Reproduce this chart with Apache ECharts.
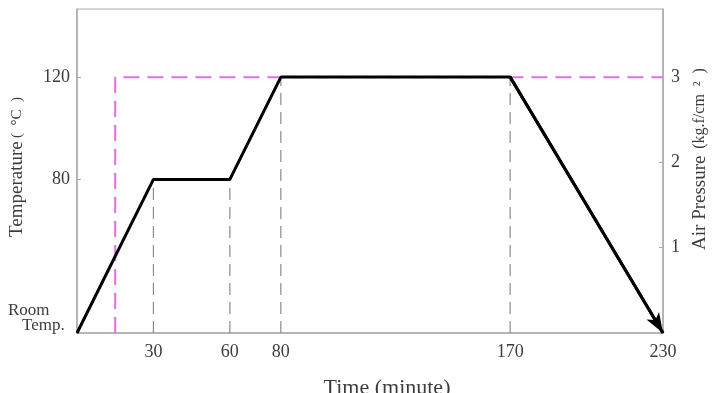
<!DOCTYPE html>
<html>
<head>
<meta charset="utf-8">
<script src="https://cdn.jsdelivr.net/npm/echarts@6/dist/echarts.min.js"></script>
<style>html,body{margin:0;padding:0;background:#fff}#c{width:718px;height:393px}</style>
</head>
<body>
<div id="c"></div>
<script>
// Temperature profile (time in minutes, temperature in °C)
var timePts = [0, 30, 60, 80, 170, 230];
var tempPts = [20, 80, 80, 120, 120, 20];
// Air pressure profile (time, kg.f/cm²)
var presTime = [15, 15, 230];
var presVals = [0, 3, 3];
// Guide lines at these times
var guideTimes = [30, 60, 80, 170];
var guideTemps = [80, 80, 120, 120];
// Tick labels
var xTicks = [30, 60, 80, 170, 230];
var yLeftTicks = [80, 120];
var yRightTicks = [1, 2, 3];
var roomTemp = 20;

var font = 'Liberation Serif';
var txtColor = '#3c3c3c';

var tempData = timePts.map(function (t, i) { return [t, tempPts[i]]; });
var presData = presTime.map(function (t, i) { return [t, presVals[i]]; });
var last = tempData.length - 1;

var series = [];
guideTimes.forEach(function (t, i) {
  series.push({
    type: 'line', xAxisIndex: 0, yAxisIndex: 0, symbol: 'none', silent: true,
    data: [[t, roomTemp], [t, guideTemps[i]]],
    lineStyle: { color: '#8a8a8a', width: 1.2, type: [12, 7] }, z: 1
  });
});
series.push({
  type: 'line', xAxisIndex: 0, yAxisIndex: 1, symbol: 'none',
  data: presData,
  lineStyle: { color: '#e36de3', width: 2, type: [16, 8] }, z: 2
});
series.push({
  type: 'line', xAxisIndex: 0, yAxisIndex: 0, symbol: 'none',
  data: tempData,
  lineStyle: { color: '#000', width: 3 }, z: 3,
  markLine: {
    silent: true, animation: false,
    symbol: ['none', 'arrow'], symbolSize: [11, 20],
    label: { show: false },
    lineStyle: { color: '#000', width: 3, type: 'solid' },
    data: [[{ coord: tempData[last - 1] }, { coord: tempData[last] }]]
  }
});

var chart = echarts.init(document.getElementById('c'));
chart.setOption({
  animation: false,
  backgroundColor: '#fff',
  grid: { left: 77, right: 55, top: 9, bottom: 60, show: true, borderColor: '#aaa', borderWidth: 1 },
  xAxis: {
    type: 'value', min: 0, max: 230,
    axisLine: { show: true, lineStyle: { color: '#aaa', width: 1.5 } },
    axisTick: { show: false },
    splitLine: { show: false },
    axisLabel: { customValues: xTicks, color: txtColor, fontFamily: font, fontSize: 18, margin: 10 }
  },
  yAxis: [{
    type: 'value', min: roomTemp, max: 146.6, position: 'left',
    axisLine: { show: true, lineStyle: { color: '#aaa', width: 1.5 } },
    axisTick: { show: true, inside: true, customValues: yLeftTicks, length: 4, lineStyle: { color: '#aaa' } },
    splitLine: { show: false },
    axisLabel: { customValues: yLeftTicks, color: txtColor, fontFamily: font, fontSize: 18, margin: 7 }
  }, {
    type: 'value', min: 0, max: 3.8, position: 'right',
    axisLine: { show: true, lineStyle: { color: '#aaa', width: 1.5 } },
    axisTick: { show: true, inside: true, customValues: yRightTicks, length: 4, lineStyle: { color: '#aaa' } },
    splitLine: { show: false },
    axisLabel: { customValues: yRightTicks, color: txtColor, fontFamily: font, fontSize: 18, margin: 8 }
  }],
  graphic: [
    { type: 'text', left: 8, top: 302, style: { text: 'Room', font: '17px "Liberation Serif"', fill: txtColor } },
    { type: 'text', left: 22, top: 317, style: { text: 'Temp.', font: '17px "Liberation Serif"', fill: txtColor } },
    { type: 'text', x: 17, y: 167, rotation: Math.PI / 2,
      style: { text: '{a|Temperature} {b|(  °C  )}', align: 'center', verticalAlign: 'middle', fill: txtColor,
        rich: { a: { fontFamily: font, fontSize: 19, fill: txtColor }, b: { fontFamily: font, fontSize: 15, fill: txtColor } } } },
    { type: 'text', x: 700, y: 159, rotation: Math.PI / 2,
      style: { text: '{a|Air Pressure}  {b|(kg.f/cm  ²  )}', align: 'center', verticalAlign: 'middle', fill: txtColor,
        rich: { a: { fontFamily: font, fontSize: 19, fill: txtColor }, b: { fontFamily: font, fontSize: 16, fill: txtColor } } } },
    { type: 'text', x: 387, y: 377, style: { text: 'Time (minute)', align: 'center', verticalAlign: 'top', font: '22px "Liberation Serif"', fill: txtColor } }
  ],
  series: series
});
</script>
</body>
</html>
